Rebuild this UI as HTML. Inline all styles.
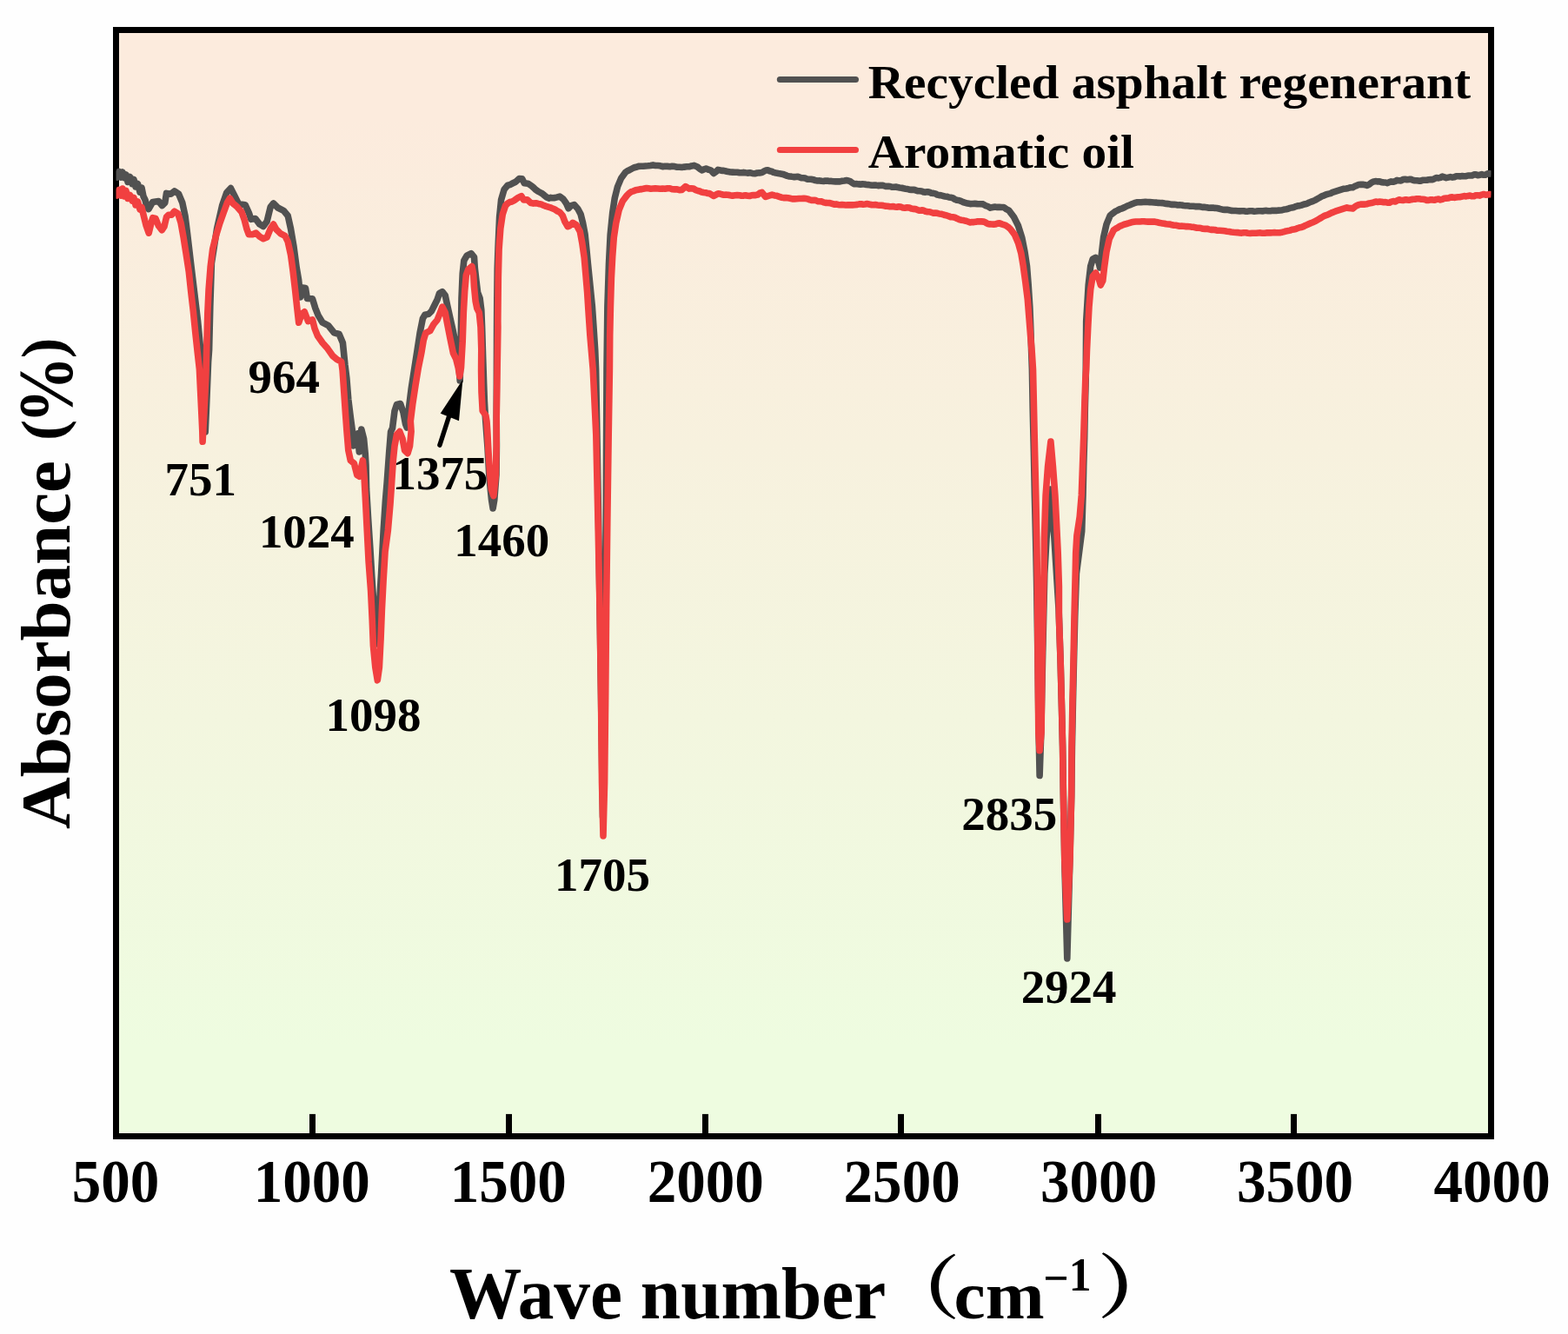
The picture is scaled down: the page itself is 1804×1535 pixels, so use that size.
<!DOCTYPE html>
<html lang="en">
<head>
<meta charset="utf-8">
<title>FTIR spectra - Recycled asphalt regenerant vs Aromatic oil</title>
<style>
html,body{margin:0;padding:0;background:#fefefe;}
body{width:1804px;height:1535px;overflow:hidden;}
svg{display:block;}
text{font-family:'Liberation Serif','Noto Serif CJK SC',serif;font-weight:bold;fill:#000;}
</style>
</head>
<body>
<svg width="1804" height="1535" viewBox="0 0 1804 1535">
<defs>
<linearGradient id="bg" x1="0" y1="0" x2="0" y2="1">
<stop offset="0.08" stop-color="#fcebdd"/>
<stop offset="0.92" stop-color="#eefce0"/>
</linearGradient>
<clipPath id="clip"><rect x="133.5" y="34.5" width="1582" height="1273"/></clipPath>
</defs>
<rect x="0" y="0" width="1804" height="1535" fill="#fefefe"/>
<rect x="133.5" y="34.5" width="1582" height="1273" fill="url(#bg)" stroke="#000" stroke-width="7"/>

<g stroke="#000" stroke-width="7">
<line x1="359.5" y1="1281.9" x2="359.5" y2="1305"/>
<line x1="585.5" y1="1281.9" x2="585.5" y2="1305"/>
<line x1="811.5" y1="1281.9" x2="811.5" y2="1305"/>
<line x1="1036.5" y1="1281.9" x2="1036.5" y2="1305"/>
<line x1="1263.5" y1="1281.9" x2="1263.5" y2="1305"/>
<line x1="1488.5" y1="1281.9" x2="1488.5" y2="1305"/>
</g>
<g clip-path="url(#clip)" fill="none" stroke-width="7.6" stroke-linejoin="round" stroke-linecap="butt">
<path stroke="#515151" d="M133.0,197.0 L135.0,204.0 L137.0,197.5 L139.0,204.0 L141.0,198.0 L143.0,204.5 L145.0,201.0 L147.0,209.5 L149.5,203.5 L152.0,211.5 L154.0,206.5 L156.0,215.0 L158.5,211.5 L161.0,221.0 L163.0,216.0 L165.0,226.0 L167.0,230.0 L169.0,238.0 L171.0,240.6 L175.7,232.4 L182.4,231.5 L186.5,236.5 L189.8,233.2 L191.5,222.4 L196.5,223.2 L200.7,219.9 L205.6,223.2 L209.8,233.2 L213.0,248.2 L215.5,268.1 L219.2,299.7 L223.6,336.3 L227.6,369.6 L231.6,411.1 L234.6,460.0 L236.2,497.0 L237.6,466.5 L239.6,416.6 L240.6,402.8 L241.8,352.9 L243.4,303.0 L249.6,263.1 L255.6,236.5 L260.8,221.6 L265.5,216.6 L269.7,224.9 L274.7,234.9 L282.1,235.7 L286.3,244.8 L288.8,252.3 L293.8,251.5 L298.8,258.1 L302.9,260.6 L307.1,254.8 L311.2,238.2 L314.6,234.0 L319.6,239.0 L326.2,242.3 L331.2,248.2 L334.5,263.1 L337.9,283.1 L341.2,308.0 L343.6,322.0 L345.6,342.0 L348.0,331.0 L351.5,331.5 L353.4,343.5 L359.5,343.8 L362.8,354.6 L366.1,362.9 L371.1,371.2 L377.8,374.6 L384.4,382.9 L390.2,384.5 L394.4,394.5 L396.9,419.4 L398.8,434.6 L400.8,459.6 L403.3,480.0 L405.6,497.0 L406.6,513.0 L409.5,501.0 L411.5,499.0 L413.3,520.0 L415.8,494.0 L418.6,505.0 L420.2,521.6 L421.0,535.0 L421.6,563.0 L423.6,596.4 L425.8,629.7 L427.8,662.9 L430.0,696.2 L432.0,721.1 L433.6,741.0 L435.6,709.7 L438.6,659.8 L441.2,609.9 L443.4,576.6 L445.2,554.8 L447.6,521.6 L449.6,496.6 L451.5,492.8 L454.0,472.9 L456.5,465.4 L460.6,464.6 L464.0,474.5 L466.5,487.8 L468.1,492.0 L470.6,467.9 L473.1,447.9 L476.4,426.3 L479.8,404.7 L483.1,383.1 L486.4,366.4 L488.9,362.3 L493.1,361.4 L496.4,358.1 L499.7,351.5 L503.1,344.8 L505.6,337.3 L508.9,335.7 L512.2,339.8 L514.7,351.5 L518.0,366.4 L521.4,381.4 L524.7,398.0 L527.2,409.7 L529.2,437.9 L530.2,393.0 L531.0,343.1 L532.2,314.9 L533.8,299.9 L537.1,294.1 L542.1,291.6 L545.5,295.8 L546.3,308.2 L548.0,323.2 L549.6,336.5 L552.1,343.1 L553.8,356.4 L554.6,376.4 L555.6,409.7 L556.7,442.9 L557.4,462.0 L558.4,480.0 L561.0,515.0 L563.0,550.0 L565.5,575.0 L567.1,585.0 L568.8,575.0 L571.0,546.0 L571.4,513.0 L571.2,480.0 L571.4,426.0 L571.6,376.0 L571.8,345.0 L572.2,310.0 L573.0,286.4 L574.6,249.8 L576.6,229.9 L580.0,218.2 L584.1,213.2 L586.6,212.6 L589.1,211.3 L593.3,209.3 L597.4,205.5 L600.7,205.8 L603.2,210.7 L607.4,211.2 L611.5,213.9 L614.0,216.0 L616.5,218.4 L619.0,220.2 L621.5,221.5 L624.0,222.9 L626.5,225.0 L629.0,227.0 L631.5,228.1 L633.7,227.4 L636.0,227.7 L638.2,227.6 L641.1,226.9 L644.0,226.1 L648.1,229.1 L651.5,234.0 L654.0,239.8 L657.3,236.6 L660.6,235.6 L664.8,240.2 L668.1,246.5 L670.6,256.5 L673.1,269.8 L674.8,286.4 L676.4,303.0 L678.9,328.0 L681.4,352.9 L683.1,377.9 L684.7,402.8 L685.6,424.9 L688.6,600.0 L690.8,750.0 L693.5,940.0 L695.4,750.0 L697.2,600.0 L698.0,424.9 L698.9,352.9 L700.5,303.0 L702.2,269.8 L704.7,244.8 L707.2,228.2 L710.5,214.9 L714.7,204.9 L719.6,198.3 L721.8,196.7 L724.1,195.7 L726.3,194.5 L729.1,193.0 L731.8,192.3 L734.6,191.4 L737.4,191.2 L740.1,191.3 L742.9,191.0 L745.7,190.8 L748.4,190.4 L751.2,189.9 L754.0,190.5 L756.8,190.5 L759.6,190.8 L762.4,191.7 L765.1,191.2 L767.9,191.4 L770.7,191.7 L773.4,191.2 L776.2,191.6 L779.0,192.3 L781.7,192.2 L784.5,192.5 L787.3,192.1 L790.0,191.8 L792.8,191.8 L795.7,190.9 L798.6,190.4 L802.8,192.3 L805.3,194.5 L807.8,195.9 L810.3,194.6 L812.8,194.0 L815.3,195.3 L817.8,195.9 L821.1,199.5 L823.6,197.7 L826.1,195.4 L828.3,195.8 L830.5,196.4 L832.7,196.4 L835.2,197.0 L837.7,197.6 L840.2,198.0 L842.7,198.1 L845.5,198.2 L848.2,198.2 L851.0,198.8 L853.2,198.8 L855.5,198.4 L857.8,198.8 L860.0,199.1 L862.8,198.8 L865.5,199.4 L868.3,199.8 L871.1,199.0 L873.8,198.9 L876.6,198.5 L878.8,197.2 L881.1,196.0 L883.3,195.7 L885.5,196.7 L887.7,197.2 L889.9,198.4 L892.7,199.0 L895.4,199.5 L898.2,199.9 L900.7,200.4 L903.2,201.4 L905.7,202.4 L908.2,203.0 L910.5,203.1 L912.9,203.6 L915.2,203.6 L917.6,203.3 L919.9,203.9 L922.1,204.8 L924.3,204.8 L926.5,205.1 L928.7,206.2 L930.9,206.3 L933.1,206.2 L935.6,206.7 L938.1,207.6 L940.6,208.0 L943.1,207.9 L945.3,208.3 L947.5,208.5 L949.8,208.0 L952.0,208.1 L954.2,208.5 L956.4,208.4 L958.9,208.7 L961.4,208.9 L963.9,208.9 L966.4,208.9 L968.9,208.3 L971.4,208.0 L973.9,207.6 L976.2,208.0 L978.5,208.9 L980.7,210.6 L983.0,211.7 L985.3,211.6 L987.7,211.9 L990.0,212.1 L992.4,211.9 L994.7,212.0 L996.9,212.5 L999.1,212.6 L1001.4,212.9 L1003.6,213.3 L1005.8,213.1 L1008.0,213.1 L1010.3,213.6 L1012.6,213.4 L1015.0,213.2 L1017.3,213.9 L1019.6,214.5 L1021.8,214.3 L1024.0,214.5 L1026.2,215.3 L1028.5,215.2 L1030.7,215.0 L1032.9,215.6 L1035.1,216.0 L1037.3,216.2 L1039.6,216.8 L1041.8,217.2 L1044.0,217.5 L1046.2,218.2 L1048.5,218.4 L1050.9,218.2 L1053.2,218.8 L1055.6,219.6 L1057.9,219.7 L1060.2,220.0 L1062.5,220.9 L1064.9,221.1 L1067.2,220.7 L1069.5,221.2 L1071.7,222.3 L1073.9,222.4 L1076.2,222.9 L1078.4,224.1 L1080.6,224.6 L1082.8,224.8 L1085.0,225.5 L1087.2,225.9 L1089.4,226.2 L1091.7,227.0 L1093.9,227.3 L1096.1,227.7 L1098.4,229.2 L1100.8,230.2 L1103.1,230.5 L1105.5,231.3 L1107.8,232.5 L1110.6,233.3 L1113.3,234.1 L1116.1,234.6 L1118.9,234.5 L1121.6,234.4 L1124.4,234.6 L1127.7,234.7 L1131.0,234.9 L1133.8,236.6 L1136.6,237.5 L1139.4,239.1 L1142.1,238.6 L1144.7,238.1 L1147.3,238.4 L1150.0,238.4 L1152.5,238.5 L1154.9,238.5 L1157.8,240.6 L1160.7,242.1 L1166.5,249.8 L1171.5,259.8 L1175.7,273.1 L1179.0,289.7 L1181.5,306.4 L1183.2,328.0 L1184.8,352.9 L1185.8,377.9 L1186.6,402.8 L1187.4,424.9 L1188.2,469.9 L1189.4,519.8 L1190.4,569.7 L1191.6,619.6 L1192.6,669.5 L1194.0,759.8 L1195.1,842.9 L1196.1,892.5 L1197.8,842.9 L1199.5,759.8 L1201.8,660.0 L1204.0,620.0 L1208.5,563.0 L1213.0,620.0 L1218.0,700.0 L1218.4,709.9 L1220.1,759.8 L1221.4,809.7 L1222.6,859.6 L1223.4,914.9 L1225.0,1000.0 L1227.8,1103.0 L1230.6,1000.0 L1232.7,914.9 L1233.4,859.6 L1234.4,809.7 L1235.5,759.8 L1236.7,709.9 L1238.4,660.0 L1244.7,611.2 L1246.0,569.7 L1246.7,536.4 L1247.7,503.1 L1248.3,469.9 L1249.2,436.6 L1249.7,369.6 L1252.2,328.0 L1254.7,306.4 L1257.2,298.1 L1260.5,296.4 L1263.8,301.4 L1265.5,308.0 L1267.1,294.7 L1269.6,273.1 L1273.0,258.1 L1277.1,248.2 L1280.0,245.7 L1282.9,243.4 L1285.7,242.1 L1288.4,240.6 L1291.2,239.8 L1294.0,238.5 L1296.8,237.0 L1299.6,236.0 L1302.4,234.8 L1305.1,233.7 L1307.9,232.8 L1310.4,232.7 L1312.8,232.7 L1315.3,232.5 L1317.8,232.4 L1320.3,232.5 L1322.8,232.6 L1325.3,232.8 L1327.8,233.0 L1330.1,233.1 L1332.5,233.4 L1334.8,233.5 L1337.2,233.6 L1339.5,234.0 L1341.7,234.4 L1343.9,234.6 L1346.2,235.0 L1348.4,235.4 L1350.6,235.3 L1352.8,235.6 L1355.0,236.0 L1357.2,235.9 L1359.4,236.0 L1361.7,236.5 L1363.9,236.7 L1366.1,236.7 L1368.3,237.1 L1370.5,237.3 L1372.8,237.3 L1375.0,237.6 L1377.2,237.6 L1379.4,237.6 L1381.7,238.0 L1384.0,238.4 L1386.4,238.4 L1388.7,238.8 L1391.0,239.3 L1393.2,239.1 L1395.5,239.0 L1397.8,239.4 L1400.0,239.5 L1403.3,240.3 L1406.6,241.2 L1409.1,241.4 L1411.6,241.3 L1414.1,241.8 L1416.6,242.4 L1419.1,242.5 L1421.6,242.5 L1424.0,242.7 L1426.3,242.9 L1428.7,242.7 L1431.1,242.8 L1433.5,243.2 L1435.8,243.1 L1438.2,242.7 L1440.6,242.8 L1442.9,243.2 L1445.3,243.0 L1447.7,242.7 L1450.1,242.8 L1452.4,242.9 L1454.8,242.5 L1457.1,242.4 L1459.4,242.8 L1461.7,242.7 L1463.9,242.3 L1466.2,242.4 L1468.5,242.4 L1470.8,242.1 L1473.1,242.0 L1475.3,241.7 L1477.5,241.1 L1479.8,240.7 L1482.0,240.2 L1484.2,239.4 L1486.4,238.9 L1488.6,238.5 L1490.8,237.6 L1493.1,236.9 L1495.3,236.7 L1497.5,236.1 L1499.7,235.3 L1501.9,234.8 L1504.1,234.1 L1506.3,233.0 L1508.6,232.2 L1510.8,231.4 L1513.0,230.4 L1515.8,228.8 L1518.5,227.3 L1521.3,225.6 L1523.6,224.8 L1526.0,223.7 L1528.3,223.1 L1530.7,222.6 L1533.0,221.4 L1546.3,217.2 L1548.8,216.9 L1551.3,216.4 L1553.8,215.8 L1556.3,215.7 L1558.5,214.4 L1560.7,213.7 L1562.9,212.5 L1565.4,212.4 L1567.9,212.3 L1570.4,212.7 L1572.9,213.5 L1575.4,212.2 L1577.9,210.1 L1580.4,208.9 L1582.9,208.6 L1585.1,208.9 L1587.3,208.9 L1589.6,209.7 L1591.8,209.9 L1594.0,210.0 L1596.2,210.7 L1598.4,209.6 L1600.6,208.9 L1602.8,209.2 L1605.1,208.6 L1607.3,207.4 L1609.5,207.7 L1611.8,207.9 L1614.1,206.6 L1616.5,206.2 L1618.8,206.7 L1621.1,206.4 L1623.3,206.3 L1625.5,207.2 L1627.8,207.7 L1630.0,207.7 L1632.2,208.1 L1634.4,208.1 L1636.7,207.3 L1639.1,207.2 L1641.4,207.2 L1643.8,206.7 L1646.1,206.5 L1648.3,206.7 L1650.5,205.6 L1652.8,204.6 L1655.0,204.9 L1657.2,204.3 L1659.4,203.1 L1661.7,203.8 L1664.0,204.6 L1666.4,204.1 L1668.7,203.6 L1671.0,204.1 L1673.2,203.7 L1675.5,202.7 L1677.8,202.8 L1680.0,202.9 L1682.2,202.6 L1684.5,202.8 L1686.8,202.7 L1689.0,202.0 L1691.2,202.0 L1693.5,201.9 L1695.8,200.9 L1698.0,200.9 L1700.2,201.7 L1702.5,201.2 L1704.8,200.6 L1707.0,201.3 L1709.2,201.1 L1711.5,199.9 L1713.8,199.8 L1716.0,200.1"/>
<path stroke="#f14040" d="M133.0,219.0 L135.0,225.0 L137.0,218.5 L139.0,225.0 L141.0,217.0 L143.0,226.0 L145.0,219.5 L147.0,228.5 L149.5,224.5 L152.0,231.0 L154.0,227.5 L156.0,236.0 L158.5,232.0 L161.0,241.0 L163.0,238.5 L165.7,249.8 L168.2,259.8 L171.2,268.1 L173.6,258.1 L175.7,250.7 L179.0,251.5 L182.4,259.8 L186.2,264.8 L189.0,260.6 L191.5,249.8 L194.0,247.3 L197.3,247.3 L200.7,243.2 L204.8,245.7 L208.1,256.5 L211.1,273.1 L214.0,291.4 L217.3,313.0 L219.8,336.3 L222.3,357.9 L224.8,382.9 L227.3,406.1 L229.4,424.9 L230.6,449.9 L231.8,474.8 L232.8,496.4 L233.1,508.3 L234.4,483.1 L235.6,458.2 L236.8,433.3 L237.4,413.3 L237.9,394.5 L238.8,361.2 L240.1,333.0 L242.2,306.4 L244.7,286.4 L248.9,269.8 L253.0,256.5 L257.2,244.8 L261.4,233.2 L264.4,228.2 L268.0,234.0 L273.0,238.2 L278.0,244.0 L281.3,253.2 L283.8,263.1 L286.3,269.8 L290.5,269.8 L294.6,268.1 L298.8,272.3 L302.9,274.8 L307.1,273.1 L311.2,263.1 L314.6,258.1 L317.9,264.0 L322.9,268.9 L327.9,271.4 L331.2,278.1 L334.5,293.1 L337.0,311.4 L339.5,333.0 L342.0,356.2 L343.7,371.2 L347.0,361.2 L350.3,358.8 L354.5,369.6 L359.5,367.9 L362.0,377.9 L365.3,386.2 L371.1,394.5 L376.9,401.1 L382.8,409.5 L387.7,413.6 L392.7,416.1 L394.1,426.3 L395.8,451.2 L397.5,476.2 L399.1,498.0 L400.8,518.2 L403.3,529.9 L407.4,533.2 L410.8,546.5 L413.3,548.2 L417.4,529.9 L419.1,549.9 L420.7,579.8 L422.4,613.0 L424.1,646.3 L426.6,679.6 L428.2,712.8 L429.4,742.9 L431.8,767.9 L434.3,782.8 L436.4,767.9 L438.1,734.6 L439.4,701.4 L441.1,668.1 L443.1,634.8 L446.4,609.9 L449.0,579.8 L450.7,554.8 L452.3,529.9 L454.0,513.3 L456.5,500.0 L459.8,496.6 L463.1,504.9 L465.6,518.2 L469.0,521.6 L471.5,513.3 L473.1,496.6 L472.3,484.5 L474.8,464.6 L478.1,442.9 L481.4,423.0 L484.8,406.3 L487.3,391.4 L489.8,383.1 L494.8,380.6 L498.9,373.1 L503.1,368.1 L506.4,359.8 L508.9,353.1 L512.2,359.8 L514.7,373.1 L518.0,389.7 L521.4,406.3 L524.7,413.0 L527.2,423.0 L528.8,432.9 L530.5,423.0 L532.2,393.0 L533.3,359.8 L534.7,334.8 L536.3,316.5 L538.8,309.9 L543.0,306.6 L544.6,314.9 L545.5,329.9 L547.1,346.5 L548.8,354.8 L551.3,359.8 L553.0,376.4 L553.8,401.4 L553.6,426.3 L554.0,451.2 L555.2,472.9 L558.8,477.9 L560.0,485.0 L560.8,496.6 L562.1,521.6 L563.8,546.5 L565.4,563.1 L567.9,570.6 L570.4,546.5 L571.2,513.3 L571.2,480.0 L572.1,426.3 L572.9,376.4 L572.8,369.6 L573.3,319.7 L574.1,286.4 L575.8,263.1 L578.3,246.5 L581.6,236.5 L584.1,234.0 L586.6,232.5 L589.1,232.0 L591.6,230.7 L595.8,227.7 L599.9,225.6 L602.4,229.9 L606.6,229.7 L610.7,233.6 L613.6,234.1 L616.5,233.7 L619.5,234.4 L622.4,234.9 L625.3,236.3 L628.2,237.4 L630.7,238.1 L633.2,238.8 L636.1,240.1 L639.0,241.3 L641.5,243.1 L644.0,244.2 L647.3,248.2 L649.8,254.8 L653.1,260.6 L655.6,259.6 L659.0,256.3 L663.1,258.7 L667.3,266.4 L669.8,279.8 L672.2,296.4 L673.9,316.3 L675.6,336.3 L677.2,361.2 L678.9,386.2 L680.6,406.1 L682.2,424.9 L685.8,500.0 L688.0,600.0 L690.0,700.0 L691.5,800.0 L692.5,900.0 L694.0,962.0 L695.6,900.0 L696.7,800.0 L697.6,700.0 L698.8,600.0 L700.2,500.0 L701.4,424.9 L701.7,386.2 L702.4,352.9 L703.4,319.7 L704.7,294.7 L706.3,273.1 L708.8,256.5 L712.2,241.5 L716.3,231.5 L721.3,224.9 L723.8,222.4 L726.3,220.7 L728.5,220.0 L730.8,219.0 L733.0,218.4 L735.8,217.9 L738.5,217.6 L741.3,217.0 L743.8,216.5 L746.2,216.8 L748.7,217.2 L751.2,217.0 L754.0,216.8 L756.8,217.0 L759.6,217.3 L762.4,217.0 L765.1,217.3 L767.9,216.8 L770.7,216.8 L773.4,217.8 L776.2,217.9 L779.0,217.9 L781.7,218.7 L784.5,218.4 L788.7,214.6 L792.8,217.1 L795.3,216.7 L797.8,217.0 L800.3,218.7 L802.8,219.5 L805.0,220.0 L807.3,221.1 L809.5,221.5 L811.7,221.7 L813.9,222.4 L816.1,222.5 L818.6,224.0 L821.1,225.5 L823.6,224.1 L826.1,222.7 L828.3,223.0 L830.5,223.8 L832.7,224.2 L835.2,224.1 L837.7,224.2 L840.2,224.8 L842.7,225.3 L845.5,224.8 L848.2,224.6 L851.0,224.8 L853.2,225.3 L855.5,225.1 L857.8,224.7 L860.0,225.3 L862.3,225.5 L864.6,224.8 L867.0,224.5 L869.3,224.6 L871.6,224.1 L874.1,222.2 L876.6,221.4 L880.8,226.5 L883.3,225.6 L885.7,224.9 L888.2,224.1 L891.0,224.9 L893.8,225.3 L896.6,226.3 L899.1,227.2 L901.5,227.6 L904.0,227.5 L906.5,227.8 L909.0,228.3 L911.5,228.9 L914.0,228.9 L916.5,228.7 L919.3,228.5 L922.0,228.5 L924.8,228.3 L927.1,228.6 L929.5,228.9 L931.8,229.9 L934.2,230.5 L936.5,230.3 L938.7,230.6 L940.9,231.6 L943.1,231.8 L945.4,231.9 L947.6,232.9 L949.8,233.4 L952.3,233.5 L954.8,233.6 L957.3,234.4 L959.8,235.2 L962.0,234.9 L964.2,235.4 L966.5,235.8 L968.7,235.6 L970.9,235.8 L973.1,236.0 L975.6,235.8 L978.0,235.9 L980.5,235.9 L983.0,235.7 L986.4,235.4 L988.6,234.9 L990.8,234.7 L993.0,235.2 L995.3,235.0 L997.5,234.6 L999.7,235.0 L1002.2,235.6 L1004.7,235.7 L1007.1,235.6 L1009.6,236.0 L1011.8,236.3 L1014.1,236.2 L1016.3,236.6 L1018.5,237.1 L1020.8,237.2 L1023.0,237.6 L1025.2,237.7 L1027.4,237.5 L1029.6,237.9 L1031.8,238.2 L1034.0,237.7 L1036.2,238.0 L1038.7,239.0 L1041.2,239.3 L1043.7,238.8 L1046.2,239.1 L1048.5,240.1 L1050.9,240.4 L1053.2,240.6 L1055.6,241.6 L1057.9,242.2 L1060.2,241.9 L1062.5,242.1 L1064.9,243.3 L1067.2,243.8 L1069.5,243.7 L1071.7,244.5 L1073.9,245.2 L1076.2,245.0 L1078.4,245.3 L1080.6,246.0 L1082.8,246.2 L1085.0,246.8 L1087.2,247.6 L1089.4,248.0 L1091.7,248.8 L1093.9,249.8 L1096.1,249.8 L1098.6,250.3 L1101.1,251.4 L1103.6,252.6 L1106.1,253.2 L1108.6,253.6 L1111.1,254.2 L1113.6,255.0 L1116.1,255.9 L1118.3,255.5 L1120.5,255.6 L1122.8,255.3 L1125.0,254.7 L1127.2,254.9 L1129.4,254.9 L1131.7,255.1 L1134.0,256.1 L1136.4,257.5 L1138.7,257.9 L1141.0,258.0 L1143.2,258.1 L1145.5,257.9 L1147.8,257.1 L1150.0,256.9 L1153.2,258.1 L1156.5,259.1 L1159.5,260.9 L1162.4,263.5 L1167.3,269.8 L1171.5,279.8 L1174.8,291.4 L1177.3,306.4 L1179.8,324.7 L1182.3,344.6 L1184.0,366.2 L1185.6,386.2 L1187.3,406.1 L1188.5,424.9 L1189.5,469.9 L1190.6,519.8 L1191.8,569.7 L1192.8,619.6 L1193.5,669.5 L1194.0,759.8 L1194.8,842.9 L1196.1,863.7 L1198.1,842.9 L1199.0,759.8 L1201.1,660.0 L1201.4,619.6 L1203.1,569.7 L1205.6,536.4 L1208.9,508.1 L1211.4,536.4 L1213.9,569.7 L1215.6,602.9 L1217.2,636.2 L1218.4,674.9 L1218.4,709.9 L1220.1,759.8 L1221.4,809.7 L1222.6,859.6 L1223.4,914.9 L1224.8,990.0 L1227.8,1058.0 L1231.0,990.0 L1232.7,914.9 L1233.0,859.6 L1233.9,809.7 L1235.0,759.8 L1236.0,709.9 L1237.2,660.0 L1237.7,636.2 L1238.9,616.2 L1242.2,594.6 L1244.3,569.7 L1245.5,536.4 L1246.7,503.1 L1247.7,469.9 L1248.8,436.6 L1249.7,424.9 L1250.5,402.8 L1251.7,377.9 L1253.0,352.9 L1254.7,333.0 L1257.2,318.0 L1260.5,313.9 L1263.8,319.7 L1266.3,328.0 L1268.8,323.0 L1270.5,308.0 L1273.0,289.7 L1276.3,274.8 L1281.3,264.8 L1283.5,263.2 L1285.7,262.1 L1287.9,260.5 L1290.7,259.4 L1293.4,258.2 L1296.2,257.5 L1299.0,256.7 L1301.7,255.8 L1304.5,255.3 L1306.8,255.0 L1309.2,255.0 L1311.5,255.0 L1313.9,254.7 L1316.2,254.7 L1318.5,255.0 L1320.8,255.1 L1323.2,255.0 L1325.5,255.1 L1327.8,255.0 L1330.1,255.4 L1332.5,256.0 L1334.8,256.6 L1337.2,256.9 L1339.5,257.3 L1341.7,257.8 L1343.9,258.0 L1346.2,258.1 L1348.4,258.8 L1350.6,259.2 L1352.8,259.3 L1355.0,259.7 L1357.2,260.2 L1359.4,260.1 L1361.7,260.2 L1363.9,260.6 L1366.1,260.6 L1368.3,260.8 L1370.5,261.1 L1372.8,261.3 L1375.0,261.7 L1377.2,262.2 L1379.4,262.3 L1381.7,262.6 L1384.0,263.2 L1386.4,263.4 L1388.7,263.3 L1391.0,263.9 L1393.2,264.4 L1395.5,264.4 L1397.8,264.5 L1400.0,265.1 L1403.3,265.3 L1406.6,265.5 L1409.1,265.8 L1411.6,266.2 L1414.1,266.5 L1416.6,267.0 L1419.1,267.3 L1421.6,267.5 L1424.0,267.6 L1426.3,268.0 L1428.7,268.1 L1431.1,267.8 L1433.5,267.8 L1435.8,268.3 L1438.2,268.5 L1440.6,268.2 L1442.9,268.2 L1445.3,268.3 L1447.7,268.0 L1450.1,267.9 L1452.4,268.2 L1454.8,268.3 L1457.1,267.9 L1459.4,267.7 L1461.7,267.9 L1463.9,267.7 L1466.2,267.6 L1468.5,267.8 L1470.8,267.8 L1473.1,267.6 L1475.3,267.2 L1477.5,266.6 L1479.8,265.9 L1482.0,265.6 L1484.2,265.1 L1486.4,264.3 L1488.6,263.9 L1490.8,263.5 L1493.1,262.5 L1495.3,261.8 L1497.5,261.4 L1499.7,260.6 L1501.9,259.4 L1504.1,258.5 L1506.3,257.5 L1508.6,256.5 L1510.8,255.7 L1513.0,254.6 L1515.5,253.2 L1518.0,251.8 L1520.5,250.2 L1523.0,248.8 L1525.2,247.8 L1527.4,247.1 L1529.7,246.0 L1531.9,244.9 L1534.1,244.1 L1536.3,243.2 L1549.6,238.9 L1551.8,239.5 L1554.1,239.6 L1556.3,240.0 L1558.5,238.2 L1560.7,236.7 L1562.9,235.7 L1565.4,235.1 L1567.9,235.0 L1570.4,235.1 L1572.9,234.7 L1575.4,233.9 L1577.9,233.6 L1580.4,232.9 L1582.9,232.0 L1585.1,232.4 L1587.3,232.1 L1589.6,232.3 L1591.8,232.7 L1594.0,232.5 L1596.2,233.2 L1598.4,233.3 L1600.6,232.1 L1602.8,231.6 L1605.1,232.0 L1607.3,230.9 L1609.5,229.8 L1611.8,230.2 L1614.1,230.5 L1616.5,229.8 L1618.8,229.9 L1621.1,230.3 L1623.3,229.7 L1625.5,229.2 L1627.8,229.2 L1630.0,228.7 L1632.2,228.7 L1634.4,229.1 L1636.7,229.2 L1639.1,229.5 L1641.4,230.4 L1643.8,230.4 L1646.1,229.8 L1648.3,229.9 L1650.5,230.3 L1652.8,229.4 L1655.0,229.1 L1657.2,229.9 L1659.4,229.4 L1661.7,228.3 L1664.0,228.1 L1666.4,228.0 L1668.7,227.1 L1671.0,226.9 L1673.2,227.4 L1675.5,227.1 L1677.8,226.8 L1680.0,226.7 L1682.2,226.1 L1684.5,225.6 L1686.8,225.9 L1689.0,225.4 L1691.2,225.0 L1693.5,225.8 L1695.8,225.8 L1698.0,224.7 L1700.2,224.8 L1702.5,225.1 L1704.8,224.1 L1707.0,223.5 L1709.2,224.1 L1711.5,224.0 L1713.8,223.5 L1716.0,223.8"/>
</g>
<g fill="none" stroke-width="7" stroke-linecap="round">
<line x1="897.3" y1="91.5" x2="984.5" y2="91.5" stroke="#515151"/>
<line x1="897.3" y1="172.5" x2="984.5" y2="172.5" stroke="#f14040"/>
</g>
<text transform="matrix(1.0430 0 0 1.0170 998.67 112.90)" font-size="55">Recycled asphalt regenerant</text>
<text transform="matrix(1.0430 0 0 1.0170 998.67 193.40)" font-size="55">Aromatic oil</text>
<line x1="505.9" y1="512.2" x2="516.6" y2="479" stroke="#000" stroke-width="5.4" stroke-linecap="round"/>
<polygon points="532.4,436.8 506.7,475.8 528,484.2" fill="#000"/>
<text transform="matrix(1.0180 0 0 1.0144 189.54 570.40)" font-size="54">751</text>
<text transform="matrix(1.0180 0 0 1.0144 285.57 452.30)" font-size="54">964</text>
<text transform="matrix(1.0180 0 0 1.0144 297.88 630.20)" font-size="54">1024</text>
<text transform="matrix(1.0180 0 0 1.0144 374.51 840.70)" font-size="54">1098</text>
<text transform="matrix(1.0180 0 0 1.0144 451.43 563.10)" font-size="54">1375</text>
<text transform="matrix(1.0180 0 0 1.0144 522.33 640.20)" font-size="54">1460</text>
<text transform="matrix(1.0180 0 0 1.0144 638.08 1025.30)" font-size="54">1705</text>
<text transform="matrix(1.0180 0 0 1.0144 1106.30 955.30)" font-size="54">2835</text>
<text transform="matrix(1.0180 0 0 1.0144 1174.64 1154.10)" font-size="54">2924</text>
<text transform="matrix(1.0168 0 0 1.0446 82.69 1383.00)" font-size="66">500</text>
<text transform="matrix(1.0168 0 0 1.0446 291.65 1383.00)" font-size="66">1000</text>
<text transform="matrix(1.0168 0 0 1.0446 517.65 1383.00)" font-size="66">1500</text>
<text transform="matrix(1.0168 0 0 1.0446 744.72 1383.00)" font-size="66">2000</text>
<text transform="matrix(1.0168 0 0 1.0446 970.57 1383.00)" font-size="66">2500</text>
<text transform="matrix(1.0168 0 0 1.0446 1196.99 1383.00)" font-size="66">3000</text>
<text transform="matrix(1.0168 0 0 1.0446 1422.94 1383.00)" font-size="66">3500</text>
<text transform="matrix(1.0168 0 0 1.0446 1649.51 1383.00)" font-size="66">4000</text>
<text><tspan x="516.93" y="1516.50" font-size="84.59" textLength="502.32" lengthAdjust="spacingAndGlyphs">Wave number</tspan><tspan x="1010.57" y="1510.00" font-size="79.47" textLength="94.33" lengthAdjust="spacingAndGlyphs">（</tspan><tspan x="1097.47" y="1516.60" font-size="79.23" textLength="104.07" lengthAdjust="spacingAndGlyphs">cm</tspan><tspan x="1200.27" y="1488.59" font-size="55.37" textLength="29.44" lengthAdjust="spacingAndGlyphs">−</tspan><tspan x="1229.71" y="1485.00" font-size="55.37" textLength="25.84" lengthAdjust="spacingAndGlyphs">1</tspan><tspan x="1262.22" y="1509.93" font-size="80.21" textLength="95.66" lengthAdjust="spacingAndGlyphs">）</tspan></text>
<text transform="translate(79.80 954.08) rotate(-90)"><tspan x="0.00" y="0.00" font-size="81.15" textLength="423.95" lengthAdjust="spacingAndGlyphs">Absorbance</tspan> <tspan x="447.00" y="-6.83" font-size="70.73" textLength="24.18" lengthAdjust="spacingAndGlyphs">(</tspan><tspan x="466.54" y="2.19" font-size="88.48" textLength="77.93" lengthAdjust="spacingAndGlyphs">%</tspan><tspan x="541.76" y="-6.83" font-size="70.73" textLength="23.66" lengthAdjust="spacingAndGlyphs">)</tspan></text>
</svg>
</body>
</html>
